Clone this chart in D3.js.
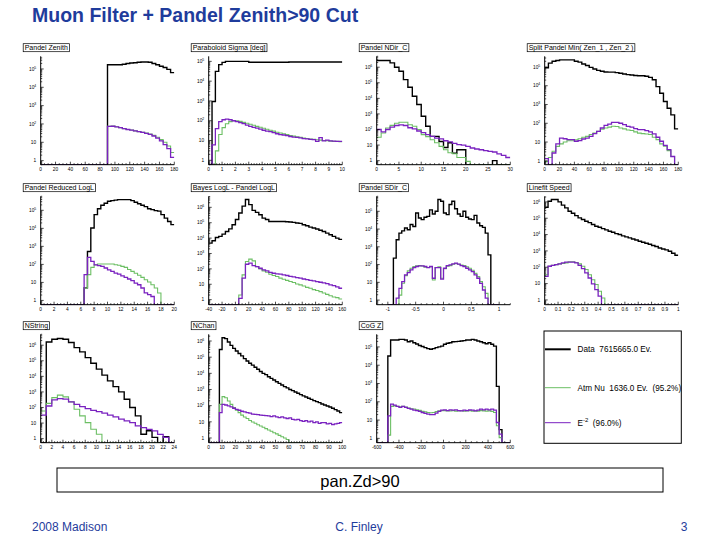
<!DOCTYPE html>
<html><head><meta charset="utf-8">
<script src="https://cdn.jsdelivr.net/npm/d3@7"></script>
<style>body{margin:0;background:#fff}svg{display:block}text{font-family:Arial,"Liberation Sans",sans-serif;white-space:pre}</style>
</head><body><svg id="c" width="720" height="540"></svg>
<script>
// ---------- data ----------
const panelTitles = ["Pandel Zenith","Paraboloid Sigma [deg]","Pandel NDir_C","Split Pandel Min( Zen_1 , Zen_2 )",
  "Pandel Reduced LogL","Bayes LogL - Pandel LogL","Pandel SDir_C","Linefit Speed",
  "NString","NChan","CoG Z"];
const xDomains = [[0,180],[0,10],[0,30],[0,180],[0,20],[-40,160],[-1.2,1.2],[0,1],[0,24],[0,100],[-600,600]];
const binRanges = [[0,180],[0,10],[0,30],[0,180],[0,20],[-40,160],[-1,1],[0,1],[0,24],[0,100],[-600,600]];
const xTickLabels = [
  [0,20,40,60,80,100,120,140,160,180],[0,1,2,3,4,5,6,7,8,9,10],[0,5,10,15,20,25,30],[0,20,40,60,80,100,120,140,160,180],
  [0,2,4,6,8,10,12,14,16,18,20],[-40,-20,0,20,40,60,80,100,120,140,160],[-1,-0.5,0,0.5,1],[0,0.1,0.2,0.3,0.4,0.5,0.6,0.7,0.8,0.9,1],
  [0,2,4,6,8,10,12,14,16,18,20,22,24],[0,10,20,30,40,50,60,70,80,90,100],[-600,-400,-200,0,200,400,600]];
const xMinorSteps = [5,0.2,1,5,0.5,5,0.1,0.025,0.5,2,50];
const yDomains = [[0.6,4.9e5],[0.6,1.8e5],[0.55,5e6],[0.62,3.7e5],[0.58,6e5],[0.47,5.2e6],[0.55,7e5],[0.51,2.2e6],[0.55,5e6],[0.51,2.6e6],[0.58,4.9e5]];

// Pandel Zenith (36 bins)
const zenData = [0,0,0,0,0,0,0,0,0,0,0,0,0,0,0,0,0,0,1.7e5,1.7e5,1.7e5,1.7e5,1.8e5,2.0e5,2.1e5,2.2e5,2.3e5,2.4e5,2.4e5,2.3e5,2.0e5,1.7e5,1.4e5,1.2e5,9.5e4,6.3e4];
const zenNu   = [0,0,0,0,0,0,0,0,0,0,0,0,0,0,0,0,0,0,74,76,71,63,56,50,47,42,38,35,32,28,24,19,14,10,6.3,2.8];
const zenE2   = [0,0,0,0,0,0,0,0,0,0,0,0,0,0,0,0,0,0,74,75,70,63,56,50,46,42,38,35,31,27,22,17,12,7.5,4.5,1.5];
// Paraboloid Sigma (40 bins)
const sigData = [0,930,3.1e4,6.8e4,8.9e4,1e5,1e5,1e5,1e5,1e5,1e5,1e5,9e4,9e4,9e4,9e4,9e4,9e4,9e4,9e4,9e4,9e4,9e4,9e4,9.3e4,9.3e4,9.3e4,9.3e4,9.3e4,9.3e4,9.3e4,9.3e4,9.3e4,9.3e4,9.3e4,9.3e4,9.3e4,9.3e4,9.3e4,9.3e4];
const sigNu   = [0,0,3,20,45,70,90,100,100,93,83,74,66,59,52,47,42,37,33,30,26,24,22,20,18,16.6,15.5,14.5,13.5,12.6,12,11.5,11,10.5,10,9.8,9.3,9.1,9,8.7];
const sigE2   = [0,6,40,90,112,120,112,100,90,80,71,60,52,46,42,38,33,30,28,25,22,20,19,17.5,16,15,14.5,13.5,12.6,12,11.5,11,9,14,9.5,10.5,9.5,9.3,9,9];
// Pandel NDir_C (30 bins)
const ndirData = [2.7e6,2.7e6,2.7e6,1.9e6,1e6,5.5e5,1.6e5,5.1e4,1.35e4,4e3,710,160,36,36,17,7,14,3,5,5,0,0,0,0,0,0,1,0,0,0];
const ndirNu   = [32,60,125,185,250,290,290,200,160,100,47,35,22,14,8.3,5,3.2,2.8,1.6,1.6,0.9,0,0,0,0,0,0,0,0,0];
const ndirE2   = [100,70,100,140,180,200,180,130,110,80,63,47,36,28,25,19,16,13,10.7,9.8,8.3,6.5,5.6,5,4.4,4,3.6,2.7,2.2,1.6];
// Split Pandel (36 bins)
const splitData = [9e4,1.6e5,2e5,2.2e5,2.4e5,2.4e5,2.4e5,2.4e5,2e5,1.8e5,1.45e5,1.2e5,9.5e4,7.8e4,6.6e4,5.9e4,5.4e4,5.3e4,5.3e4,5e4,4.6e4,4.2e4,3.9e4,3.7e4,3.5e4,3.4e4,3.4e4,3.2e4,2.8e4,2.1e4,9e3,4e3,1.45e3,630,280,50];
const splitNu   = [0.9,1.5,3.2,5.9,8,10,11.7,11.7,13,15,18,20,25,30,37,48,56,62,69,67,56,50,44,41,35,30,28,27,25,18,13.5,8,6,3.5,1.7,0];
const splitE2   = [1.3,0,2.6,8,16,15,13.5,13.5,11,12,14.5,16,20,28,37,56,78,91,112,112,100,85,69,62,52,46,46,41,35,27,18,11,6.6,3.9,1.7,0];
// Pandel Reduced LogL (40 bins)
const rlogData = [0,0,0,0,0,0,0,0,0,0,0,0,0,5,520,1.05e4,5.8e4,1.23e5,1.9e5,2.45e5,3.2e5,3.45e5,3.7e5,3.9e5,3.9e5,3.9e5,3.9e5,3.45e5,2.8e5,2.3e5,1.9e5,1.6e5,1.23e5,1.1e5,9.6e4,9e4,5.8e4,3.7e4,2.4e4,1.6e4];
const rlogNu   = [0,0,0,0,0,0,0,0,0,0,0,0,0,4.9,27,68,95,105,105,105,105,105,95,90,78,68,52,41,32,25,19,14,10.5,7.4,4.9,2.6,0,0,0,0];
const rlogE2   = [0,0,0,0,0,0,0,0,0,0,0,0,0,27,245,148,95,85,78,63,50,41,33,29,23,19,15.5,12.6,9.2,7.4,4.9,2.6,2.1,1.65,0,0,0,0,0,0];
// Bayes LogL - Pandel LogL (40 bins)
const bayesData = [4700,6700,1.1e4,1.3e4,1.8e4,2.7e4,4e4,7.4e4,1.6e5,4.3e5,1.2e6,3.2e6,1.5e6,6.3e5,4.7e5,3.3e5,2e5,1.6e5,1.2e5,1.2e5,1.2e5,1.2e5,1.2e5,1.15e5,1.1e5,1.05e5,9.5e4,9e4,7.4e4,6.3e4,5.2e4,4.5e4,3.9e4,3.2e4,2.7e4,2.1e4,1.65e4,1.3e4,1e4,8200];
const bayesNu   = [0,0,0,0,0,0,0,0,0,2,41,300,430,330,140,100,74,60,45,37,32,25,21,18,15,13,10.5,9.1,7.8,6.3,5.5,4.5,3.9,3.3,2.7,2.2,1.8,1.5,1.35,1.1];
const bayesE2   = [0,0,0,0,0,0,0,0,0,1.2,25,200,235,165,140,110,85,74,60,52,47,45,41,37,33,30,27,25,22,20,18,16.6,15,13.5,12.3,11,9,8.1,6.7,5.5];
// Pandel SDir_C (40 bins, -1..1)
const sdirData = [0,0,230,2500,5900,7900,1.15e4,9100,1.8e4,1.4e4,8e4,4.2e4,3.4e4,4.6e4,5.2e4,1.2e5,7e4,1e5,4.6e5,3.7e5,8e4,6.5e4,2.4e5,3.7e5,1.4e5,7e4,5.2e4,1e5,4.6e4,3.7e4,3.4e4,5.9e4,2.2e4,1.55e4,1.25e4,5900,350,0,0,0];
const sdirNu   = [0,0,0,0,1.9,8.8,24,44,62,78,84,87,83,71,68,75,13.5,68,75,17,58,82,87,105,115,105,95,87,75,62,48,32,21,11,5.6,2.4,0,0,0,0];
const sdirE2   = [0,0,0,1.3,4.6,11,26,35,50,68,78,84,84,78,68,78,17,68,68,15,62,87,95,110,120,105,87,78,62,50,40,26,17,8.8,3.7,1.3,0,0,0,0];
// Linefit Speed (40 bins)
const lfData = [4.7e5,1.1e6,1.4e6,1.4e6,1e6,6.3e5,4.3e5,2.7e5,2e5,1.45e5,1.05e5,8.3e4,6.6e4,5.4e4,4.1e4,3.2e4,2.8e4,2.3e4,1.95e4,1.6e4,1.4e4,1.15e4,1e4,8300,7200,6300,5400,4700,3900,3400,2950,2550,2150,1850,1500,1300,1150,950,720,540];
const lfNu   = [35,115,130,145,160,170,185,215,215,195,160,115,73,35,17,8.7,3.4,1.3,0,0,0,0,0,0,0,0,0,0,0,0,0,0,0,0,0,0,0,0,0,0];
const lfE2   = [28,115,130,145,160,185,205,205,205,185,130,83,45,22,9.5,4.3,1.7,0,0,0,0,0,0,0,0,0,0,0,0,0,0,0,0,0,0,0,0,0,0,0];
// NString (24 bins)
const nstrData = [0,1.6e6,2.4e6,2.7e6,2.4e6,1.5e6,7e5,3.7e5,1.6e5,7e4,2.9e4,1.2e4,5100,2200,1000,340,100,29,1.9,3.2,1.2,0,1.35,0];
const nstrNu   = [60,185,430,620,480,230,78,29,10.7,4,1.9,0,0,0,0,0,0,0,0,0,0,0,0,0];
const nstrE2   = [32,125,310,370,340,230,160,115,85,66,55,43,32,25,18,14,10.7,6.6,5.1,4,3.2,1.9,1.2,0];
// NChan (50 bins)
const nchData = [0,0,0,0,3e5,1.6e6,1.4e6,8.7e5,5.4e5,3.5e5,2.4e5,1.7e5,1.2e5,8.1e4,5.8e4,4.2e4,3.2e4,2.4e4,1.8e4,1.3e4,1e4,8300,6200,4900,3900,3000,2400,1900,1500,1250,1000,850,700,580,480,400,345,285,245,205,178,155,127,110,96,83,69,57,47,37];
const nchNu   = [0,0,0,0,120,360,310,195,120,75,52,37,26,20,16,12,9.8,8.1,6.6,5.5,4.6,3.8,3.1,2.6,2.1,1.8,1.45,1.2,1.0,0.8,0,0,0,0,0,0,0,0,0,0,0,0,0,0,0,0,0,0,0,0];
const nchE2   = [0,0,0,0,37,120,110,96,83,69,59,52,45,41,37,34,30,29,28,26,25,24,23,21,23,20,18,20,17.5,16,17.5,14,13,14,12,10.7,12,9.8,11,8.9,10,8.1,9,9,7.4,8.1,6.7,7.4,8.1,8.9];
// CoG Z (48 bins)
const cogData = [0,0,0,0,3.2e4,2.4e5,2.4e5,2.4e5,2.6e5,2.6e5,2.4e5,1.9e5,2.1e5,1.7e5,1.45e5,1.2e5,1.05e5,9.2e4,8.1e4,7.4e4,8.1e4,9.2e4,1e5,1.1e5,1.4e5,1.6e5,1.7e5,1.9e5,1.95e5,2e5,2.1e5,2.2e5,2.4e5,2.4e5,2.6e5,2.4e5,2.1e5,1.9e5,1.7e5,1.5e5,1.7e5,1.4e5,1.1e5,700,3,0,0,0];
const cogNu   = [0,0,0,0,1.5,56,60,56,54,56,52,46,42,40,37,34,30,28,26,25,26,29,32,33,33,32,32,33,31,32,33,31,32,33,31,32,31,33,32,31,32,30,26,4.9,1.1,0,0,0];
const cogE2   = [0,0,0,0,17,74,66,56,49,56,49,44,40,35,33,30,26,23,21,20,20,24,30,35,36,33,36,35,36,33,32,35,33,36,35,32,35,40,36,40,36,40,35,7.4,1.7,0,0,0];

const legendLabels = ["Data  7615665.0 Ev.", "Atm Nu  1636.0 Ev.  (95.2%)", "E", "  (96.0%)"];

const dataSeries = [zenData,sigData,ndirData,splitData,rlogData,bayesData,sdirData,lfData,nstrData,nchData,cogData];
const nuSeries   = [zenNu,sigNu,ndirNu,splitNu,rlogNu,bayesNu,sdirNu,lfNu,nstrNu,nchNu,cogNu];
const e2Series   = [zenE2,sigE2,ndirE2,splitE2,rlogE2,bayesE2,sdirE2,lfE2,nstrE2,nchE2,cogE2];

// ---------- drawing ----------
const svg = d3.select("#c");
const BLUE = "#1f3c9c";
svg.append("text").attr("x",32).attr("y",22).attr("font-size",19.5).attr("font-weight","bold")
  .attr("fill",BLUE).text("Muon Filter + Pandel Zenith>90 Cut");

const colX=[40.7,208.7,376.7,544.7], rowY=[56.3,196.3,334.3], PW=133.6, PH=108.4;
const COLORS = {data:"#000000", nu:"#6cbf64", e2:"#7a22c0"};

panelTitles.forEach((title,i)=>{
  const c=i%4, r=Math.floor(i/4);
  const g=svg.append("g").attr("transform",`translate(${colX[c]},${rowY[r]})`);
  const x=d3.scaleLinear().domain(xDomains[i]).range([0,PW]);
  const y=d3.scaleLog().domain(yDomains[i]).range([PH,0]);
  const ymin=yDomains[i][0];
  const cid="clip"+i;
  g.append("clipPath").attr("id",cid).append("rect").attr("x",0).attr("y",-1).attr("width",PW).attr("height",PH+1);

  const hist=(vals)=>{
    const [lo,hi]=binRanges[i], w=(hi-lo)/vals.length, pts=[];
    vals.forEach((v,k)=>{ pts.push([lo+k*w,v]); pts.push([lo+(k+1)*w,v]); });
    return d3.line().x(d=>x(d[0])).y(d=>y(Math.max(d[1],ymin)))(pts);
  };
  const hg=g.append("g").attr("clip-path",`url(#${cid})`);
  hg.append("path").attr("d",hist(dataSeries[i])).attr("fill","none").attr("stroke",COLORS.data).attr("stroke-width",1.4);
  hg.append("path").attr("d",hist(nuSeries[i])).attr("fill","none").attr("stroke",COLORS.nu).attr("stroke-width",1.1);
  hg.append("path").attr("d",hist(e2Series[i])).attr("fill","none").attr("stroke",COLORS.e2).attr("stroke-width",1.3);

  // axes
  g.append("line").attr("x1",0).attr("x2",0).attr("y1",0).attr("y2",PH).attr("stroke","#000").attr("stroke-width",1);
  g.append("line").attr("x1",0).attr("x2",PW).attr("y1",PH).attr("y2",PH).attr("stroke","#000").attr("stroke-width",1);
  // x ticks
  const [x0,x1]=xDomains[i], ms=xMinorSteps[i];
  for(let k=Math.ceil(x0/ms-1e-6); k*ms<=x1+1e-9; k++){
    const v=k*ms;
    const major=xTickLabels[i].some(t=>Math.abs(t-v)<1e-9);
    g.append("line").attr("x1",x(v)).attr("x2",x(v)).attr("y1",PH).attr("y2",PH-(major?3:1.5)).attr("stroke","#000").attr("stroke-width",0.7);
  }
  xTickLabels[i].forEach(t=>{
    g.append("text").attr("x",x(t)).attr("y",PH+6.5).attr("text-anchor","middle").attr("font-size",4.8).text(String(t));
  });
  // y ticks (log)
  const [y0,y1]=yDomains[i];
  for(let e=Math.floor(Math.log10(y0)); e<=Math.ceil(Math.log10(y1)); e++){
    for(let m=1;m<10;m++){
      const v=m*Math.pow(10,e);
      if(v<y0||v>y1) continue;
      g.append("line").attr("x1",0).attr("x2",m===1?3:1.5).attr("y1",y(v)).attr("y2",y(v)).attr("stroke","#000").attr("stroke-width",0.7);
    }
    const v=Math.pow(10,e);
    if(v>=y0&&v<=y1){
      const t=g.append("text").attr("x",-4.5).attr("y",y(v)+1.7).attr("text-anchor","end").attr("font-size",4.8);
      if(e===0) t.text("1"); else if(e===1) t.text("10");
      else { t.text("10"); t.append("tspan").attr("dy",-2).attr("font-size",3.4).text(String(e)); }
    }
  }
  // title box
  const tt=g.append("text").attr("x",-16).attr("y",-6.3).attr("font-size",7).text(title);
  const tw=tt.node().getComputedTextLength();
  g.append("rect").attr("x",-17.5).attr("y",-12.6).attr("width",tw+3).attr("height",8)
    .attr("fill","none").attr("stroke","#000").attr("stroke-width",0.7);
});

// legend
const lg=svg.append("g");
lg.append("rect").attr("x",544).attr("y",331).attr("width",137.3).attr("height",112.3).attr("fill","none").attr("stroke","#000").attr("stroke-width",1);
const legY=[349.3,387.7,422.7], legC=[COLORS.data,COLORS.nu,COLORS.e2], legW=[2,1,1];
legY.forEach((ly,k)=>{
  lg.append("line").attr("x1",545).attr("x2",570.7).attr("y1",ly).attr("y2",ly).attr("stroke",legC[k]).attr("stroke-width",legW[k]);
});
lg.append("text").attr("x",577.5).attr("y",legY[0]+2.8).attr("font-size",8.2).text(legendLabels[0]);
lg.append("text").attr("x",577.5).attr("y",legY[1]+2.8).attr("font-size",8.2).text(legendLabels[1]);
const et=lg.append("text").attr("x",577.5).attr("y",legY[2]+2.8).attr("font-size",8.2).text(legendLabels[2]);
et.append("tspan").attr("dy",-3.2).attr("font-size",6).text("-2");
et.append("tspan").attr("dy",3.2).text(legendLabels[3]);

// cut box
svg.append("rect").attr("x",57).attr("y",468).attr("width",606).attr("height",24).attr("fill","none").attr("stroke","#000").attr("stroke-width",1);
svg.append("text").attr("x",360).attr("y",487).attr("text-anchor","middle").attr("font-size",16.5).text("pan.Zd>90");

// footer
svg.append("text").attr("x",32).attr("y",531).attr("font-size",12).attr("fill",BLUE).text("2008 Madison");
svg.append("text").attr("x",359).attr("y",531).attr("text-anchor","middle").attr("font-size",12).attr("fill",BLUE).text("C. Finley");
svg.append("text").attr("x",684).attr("y",531).attr("text-anchor","middle").attr("font-size",12).attr("fill",BLUE).text("3");
</script></body></html>
